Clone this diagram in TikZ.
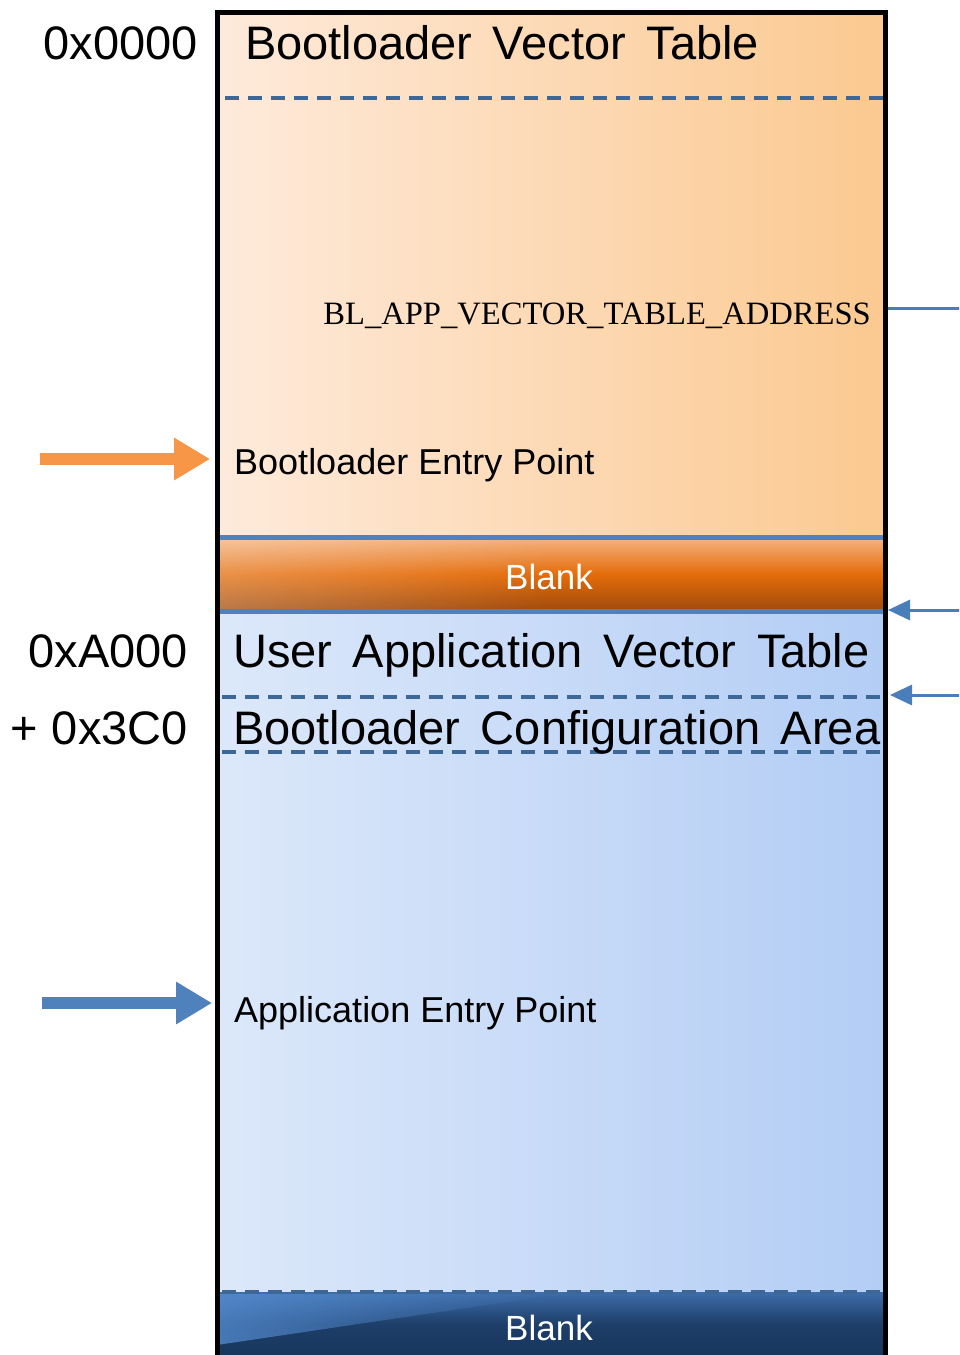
\documentclass[tikz,border=0pt]{standalone}
\usepackage{fontspec}
\setmainfont{Liberation Sans}
\newfontfamily\serifBL{Liberation Serif}
\usetikzlibrary{arrows.meta,fadings}
\definecolor{orL}{HTML}{FEEADB}
\definecolor{orR}{HTML}{FBC990}
\definecolor{blL}{HTML}{DCE8FA}
\definecolor{blR}{HTML}{B3CDF5}
\definecolor{lineblue}{HTML}{4F81BD}
\definecolor{dashblue}{HTML}{3D6797}
\definecolor{arrorange}{HTML}{F79646}
\definecolor{arrblue}{HTML}{4F81BD}
\definecolor{thinblue}{HTML}{4A7EBB}
\definecolor{obTop}{HTML}{F4B27E}
\definecolor{obMid}{HTML}{E46C0A}
\definecolor{obBot}{HTML}{A04B0C}
\definecolor{dbTop}{HTML}{3E6DAA}
\definecolor{dbBot}{HTML}{17365D}
\definecolor{dbLight}{HTML}{5A93DA}
\newcommand\mybigfont{\fontsize{47}{52}\selectfont\spaceskip 20.5pt\relax}
\newcommand\myaddrfont{\fontsize{47}{52}\selectfont\spaceskip 14pt\relax}
\tikzset{
  bigtxt/.style={anchor=base west, inner sep=0pt, font=\mybigfont},
  addr/.style={anchor=base east, inner sep=0pt, font=\myaddrfont},
  midtxt/.style={anchor=base west, inner sep=0pt, font=\fontsize{36}{40}\selectfont},
  blanktxt/.style={anchor=base, inner sep=0pt, text=white, font=\fontsize{35}{40}\selectfont},
  dashsep/.style={draw=dashblue, line width=4pt, dash pattern=on 14pt off 9pt},
  sepline/.style={draw=lineblue, line width=5pt},
  bigarrow/.style={line width=12pt, -{Triangle[length=36pt,width=40pt]}},
  thinarrow/.style={draw=thinblue, line width=3pt, -{Triangle[length=22pt,width=20pt]}},
}
\begin{document}
\begin{tikzpicture}[x=1pt,y=-1pt]
\useasboundingbox (0,0) rectangle (959,1355);
\clip (0,0) rectangle (959,1355);
% regions
\node[inner sep=0pt, minimum width=668pt, minimum height=526pt, anchor=north west,
      left color=orL, right color=orR] (boot) at (217,12) {};
\node[inner sep=0pt, minimum width=668pt, minimum height=72pt, anchor=north west,
      top color=obTop, bottom color=obBot, middle color=obMid] (blank1) at (217,538) {};
\node[inner sep=0pt, minimum width=668pt, minimum height=682pt, anchor=north west,
      left color=blL, right color=blR] (app) at (217,610) {};
\node[inner sep=0pt, minimum width=668pt, minimum height=64pt, anchor=north west,
      top color=dbTop, bottom color=dbBot, middle color=dbBot!85!dbTop] (blank2) at (217,1292) {};
% lighten left of orange blank band
\fill[white, path fading=east, opacity=0.25] (blank1.north west) rectangle (blank1.south);
% lighter blue sweep on the left of the bottom band
\fill[dbLight, path fading=east, opacity=0.7] (217,1294) -- (560,1294) -- (217,1345) -- cycle;
% separators
\draw[dashsep] (225,98) -- (883,98);
\draw[sepline] (219,537) -- (883,537);
\draw[sepline] (219,611) -- (883,611);
\draw[dashsep] (222,697) -- (883,697);
\draw[dashsep] (222,752) -- (883,752);
\draw[dashsep] (222,1292) -- (883,1292);
% border
\draw[black, line width=5pt] (217,1370) -- (217,12.5) -- (885.5,12.5) -- (885.5,1370);
% texts
\node[bigtxt] (bvt) at (245,59) {Bootloader Vector Table};
\node[addr] (a0) at (198,59) {0x0000};
\node[anchor=base east, inner sep=0pt, font=\serifBL\fontsize{32.6}{36}\selectfont] (bladdr) at (871,324) {BL\_APP\_VECTOR\_TABLE\_ADDRESS};
\node[midtxt] (bep) at (234,474) {Bootloader Entry Point};
\node[blanktxt] (b1) at (549,589) {Blank};
\node[bigtxt] (uavt) at (233,667) {User Application Vector Table};
\node[addr] (aA) at (188,667) {0xA000};
\node[bigtxt] (bca) at (233,744) {Bootloader Configuration Area};
\node[addr] (a3) at (188,744) {+ 0x3C0};
\node[midtxt] (aep) at (234,1022) {Application Entry Point};
\node[blanktxt] (b2) at (549,1340) {Blank};
% connector end points
\coordinate (oS) at (40,459);
\coordinate (oE) at (210,459);
\coordinate (bS) at (42,1003);
\coordinate (bE) at (212,1003);
\coordinate (r1S) at (960,308);
\coordinate (r1E) at (888,308);
\coordinate (r2S) at (960,610);
\coordinate (r2E) at (888,610);
\coordinate (r3S) at (960,695);
\coordinate (r3E) at (890,695);
% shadows of big arrows
\begin{scope}[opacity=0.18]
\draw[bigarrow, draw=black, shift={(3pt,-5pt)}] (oS) -- (oE);
\draw[bigarrow, draw=black, shift={(3pt,-5pt)}] (bS) -- (bE);
\end{scope}
\draw[bigarrow, draw=arrorange, color=arrorange] (oS) -- (oE);
\draw[bigarrow, draw=arrblue, color=arrblue] (bS) -- (bE);
% right connectors
\draw[draw=thinblue, line width=3pt] (r1S) -- (r1E);
\draw[thinarrow, color=thinblue] (r2S) -- (r2E);
\draw[thinarrow, color=thinblue] (r3S) -- (r3E);
\end{tikzpicture}
\end{document}
